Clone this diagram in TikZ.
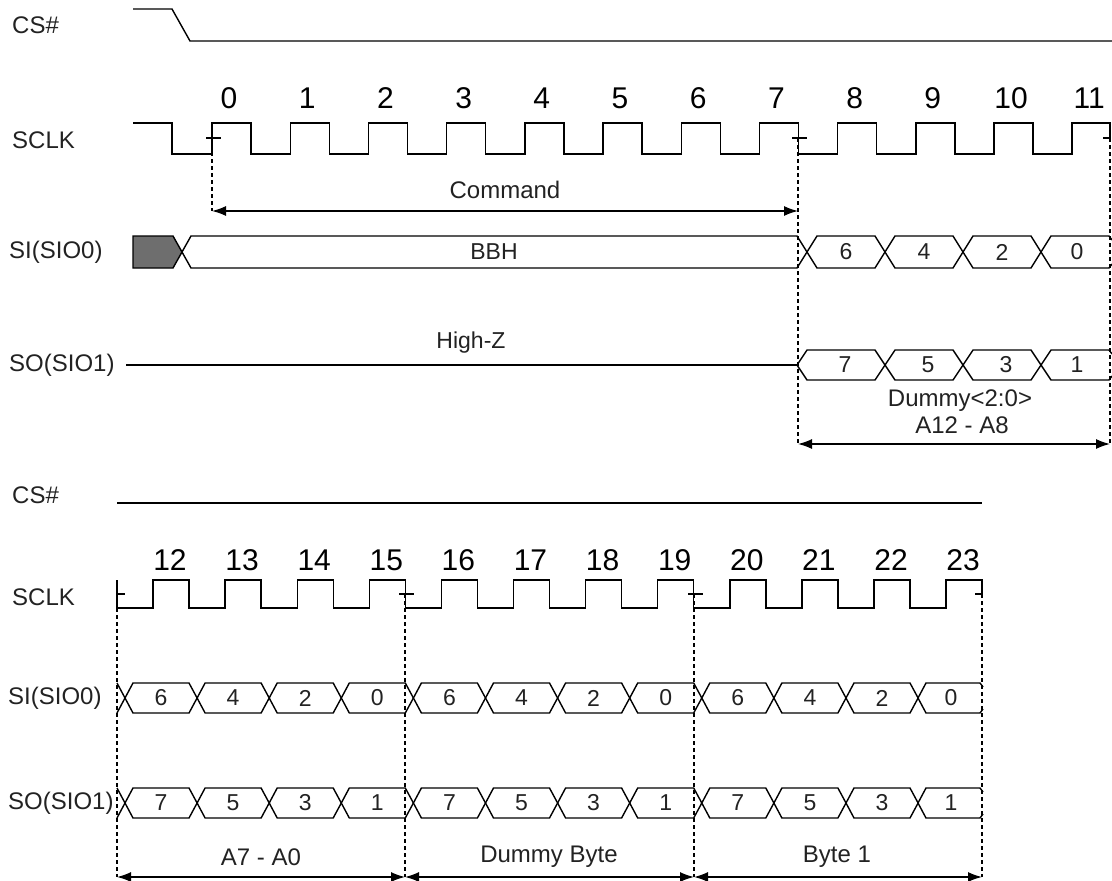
\documentclass[tikz,border=0pt]{standalone}
\usepackage{fontspec}
\setmainfont{Liberation Sans}
\usetikzlibrary{arrows.meta}
\definecolor{busgray}{HTML}{6E6E6E}
\definecolor{ink}{HTML}{222222}

\begin{document}
\begin{tikzpicture}[x=1pt, y=-1pt,
    sig/.style={line width=1.4pt, line join=miter},
    guide/.style={line width=1.4pt, dash pattern=on 4pt off 3pt},
    dim/.style={line width=1.4pt, {Latex[length=14pt,width=10pt]}-{Latex[length=14pt,width=10pt]}},
    lbl/.style={inner sep=0pt, anchor=west, text=ink, font=\fontsize{24}{28}\selectfont},
    num/.style={inner sep=0pt, font=\fontsize{30}{34}\selectfont},
    val/.style={inner sep=0pt, text=ink, font=\fontsize{23}{26}\selectfont},
    txt/.style={inner sep=0pt, text=ink, font=\fontsize{24}{27}\selectfont}]
	\useasboundingbox (0,0) rectangle (1112,881);

	% signal names
	\node[lbl] (cs1) at (12,25) {CS\#};
	\node[lbl] (sclk1) at (12,140) {SCLK};
	\node[lbl] (si1) at (9,252) {SI(SIO0)};
	\node[lbl] (so1) at (9,365) {SO(SIO1)};
	\node[lbl] (cs2) at (12,495) {CS\#};
	\node[lbl] (sclk2) at (12,597) {SCLK};
	\node[lbl] (si2) at (8,698) {SI(SIO0)};
	\node[lbl] (so2) at (8,803) {SO(SIO1)};

	% chip select
	\draw[sig] (133,9) -- (172,9) -- (190,41) -- (1112,41);
	\draw[sig] (117,503) -- (982,503);

	% clock, first part
	\draw[sig] (133,123) -- (172,123) -- (172,154)
		\foreach \k in {0,...,10} { -- ({212+78.2*\k},154) -- ({212+78.2*\k},123) -- ({251+78.2*\k},123) -- ({251+78.2*\k},154) }
		-- (1072,154) -- (1072,123) -- (1110,123) -- (1110,138);
	\foreach \k in {0,...,11}
		\node[num] (n\k) at ({229+78.2*\k},98) {\k};
	\foreach \x in {212,798}
		\draw[sig] (\x-6,138) -- (\x+9,138);
	\draw[sig] (1103,138) -- (1110,138);

	% clock, second part
	\draw[sig] (117,580) -- (117,608)
		\foreach \k in {0,...,10} { -- ({153+72.1*\k},608) -- ({153+72.1*\k},580) -- ({189+72.1*\k},580) -- ({189+72.1*\k},608) }
		-- (946,608) -- (946,580) -- (982,580) -- (982,594);
	\foreach \k in {12,...,23}
		\node[num] (n\k) at ({170+72.1*(\k-12)},560) {\k};
	\draw[sig] (117,594) -- (125,594);
	\foreach \x in {405,694}
		\draw[sig] (\x-6,594) -- (\x+9,594);
	\draw[sig] (975,594) -- (982,594);

	% guides
	\coordinate (ta) at (212,211);
	\coordinate (tb) at (798,211);
	\coordinate (tc) at (798,444);
	\coordinate (td) at (1110,444);
	\coordinate (ba) at (117,877);
	\coordinate (bb) at (405,877);
	\coordinate (bc) at (694,877);
	\coordinate (bd) at (982,877);
	\draw[guide] (212,138) -- (ta);
	\draw[guide] (798,138) -- (tc);
	\draw[guide] (1110,138) -- (td);
	\foreach \c/\x in {ba/117,bb/405,bc/694,bd/982}
		\draw[guide] (\x,594) -- (\c);

	% SI, first part
	\filldraw[sig, fill=busgray] (133,236) -- (173,236) -- (182,252) -- (173,268) -- (133,268) -- cycle;
	\draw[sig] (182,252) -- (191,236) -- (797,236) -- (807,252) -- (797,268) -- (191,268) -- cycle;
	\node[val] (bbh) at (494,252) {BBH};
	\foreach \a/\b/\v [count=\i] in {807/885/6,885/963/4,963/1041/2} {
		\draw[sig] (\a,252) -- (\a+10,236) -- (\b-10,236) -- (\b,252) -- (\b-10,268) -- (\a+10,268) -- cycle;
		\node[val] (tsi\i) at ({(\a+\b)/2},252) {\v};
	}
	\draw[sig] (1112,240) -- (1109,236) -- (1051,236) -- (1041,252) -- (1051,268) -- (1109,268) -- (1112,264);
	\node[val] (tsi4) at (1077,252) {0};

	% SO, first part
	\draw[sig] (126,365) -- (797,365);
	\node[val] (hiz) at (471,343) {High-Z};
	\foreach \a/\b/\v [count=\i] in {797/885/7,885/963/5,963/1041/3} {
		\draw[sig] (\a,365) -- (\a+10,350) -- (\b-10,350) -- (\b,365) -- (\b-10,380) -- (\a+10,380) -- cycle;
		\node[val] (tso\i) at ({(\a+\b)/2+4},365) {\v};
	}
	\draw[sig] (1112,354) -- (1109,350) -- (1051,350) -- (1041,365) -- (1051,380) -- (1109,380) -- (1112,376);
	\node[val] (tso4) at (1077,365) {1};

	% SI and SO, second part
	\draw[sig] (117,683) -- (125,698) -- (117,713);
	\draw[sig] (117,788) -- (125,803) -- (117,818);
	\foreach \j/\p/\q in {0/6/7,1/4/5,2/2/3,3/0/1,4/6/7,5/4/5,6/2/3,7/0/1,8/6/7,9/4/5,10/2/3} {
		\draw[sig] ({125+72.1*\j},698) -- ({133+72.1*\j},683) -- ({189+72.1*\j},683) -- ({197.1+72.1*\j},698) -- ({189+72.1*\j},713) -- ({133+72.1*\j},713) -- cycle;
		\draw[sig] ({125+72.1*\j},803) -- ({133+72.1*\j},788) -- ({189+72.1*\j},788) -- ({197.1+72.1*\j},803) -- ({189+72.1*\j},818) -- ({133+72.1*\j},818) -- cycle;
		\node[val] (bsi\j) at ({161+72.1*\j},698) {\p};
		\node[val] (bso\j) at ({161+72.1*\j},803) {\q};
	}
	\draw[sig] (983,687) -- (980,683) -- (926,683) -- (918,698) -- (926,713) -- (980,713) -- (983,709);
	\draw[sig] (983,792) -- (980,788) -- (926,788) -- (918,803) -- (926,818) -- (980,818) -- (983,814);
	\node[val] (bsi11) at (951,698) {0};
	\node[val] (bso11) at (951,803) {1};

	% spans
	\draw[dim] (ta) -- (tb);
	\node[txt] (cmd) at (505,190) {Command};
	\draw[dim] (tc) -- (td);
	\node[txt] (dmy) at (960,401) {Dummy<2:0>};
	\node[txt] (a12) at (962,425) {A12 - A8};
	\draw[dim] (ba) -- (bb);
	\draw[dim] (bb) -- (bc);
	\draw[dim] (bc) -- (bd);
	\node[txt] (a7) at (261,857) {A7 - A0};
	\node[txt] (dbyte) at (549,857) {Dummy Byte};
	\node[txt] (byte1) at (837,857) {Byte 1};
\end{tikzpicture}
\end{document}
